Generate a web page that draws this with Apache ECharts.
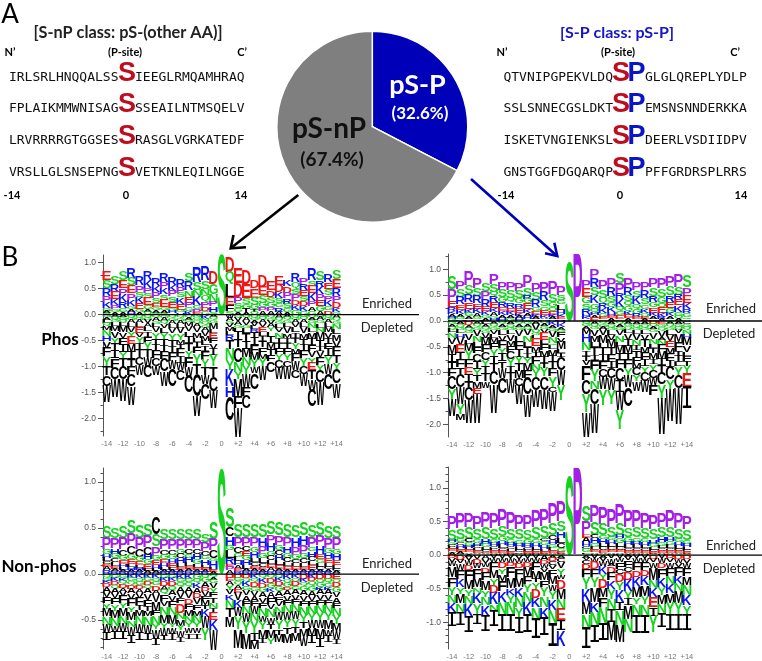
<!DOCTYPE html>
<html><head><meta charset="utf-8">
<style>html,body{margin:0;padding:0;background:#fff}#c{width:762px;height:661px}</style>
<script src="https://cdn.jsdelivr.net/npm/echarts@6/dist/echarts.min.js"></script>
</head><body><div id="c"></div>
<script>
// ---------- data ----------
const pieNames = ['pS-P', 'pS-nP'];
const pieValues = [32.6, 67.4];

const positions = [-14,-13,-12,-11,-10,-9,-8,-7,-6,-5,-4,-3,-2,-1,0,1,2,3,4,5,6,7,8,9,10,11,12,13,14];
const xTickValues = [-14,-12,-10,-8,-6,-4,-2,0,2,4,6,8,10,12,14];

const seqNpLeft  = ['IRLSRLHNQQALSS','FPLAIKMMWNISAG','LRVRRRRGTGGSES','VRSLLGLSNSEPNG'];
const seqNpRight = ['IEEGLRMQAMHRAQ','SSEAILNTMSQELV','RASGLVGRKATEDF','VETKNLEQILNGGE'];
const seqPLeft   = ['QTVNIPGPEKVLDQ','SSLSNNECGSLDKT','ISKETVNGIENKSL','GNSTGGFDGQARQP'];
const seqPRight  = ['GLGLQREPLYDLP','EMSNSNNDERKKA','DEERLVSDIIDPV','PFFGRDRSPLRRS'];

// Letter stacks, read top to bottom; number = height in hundredths of a logo unit
const npPhosUp = ['E18S16R15P11K12G06A04Q03','S15R15E14K12P08G05A05','S17E15P13K14R12G07A05','R19S14E15P12K13G06A05H05','R16P13S10K11E12G06A05','R16K15P10S10E14G08A05Q05','R14K12P12S10E08G06A04Q04','R16P12K11S11E14G06A05Q04','R15K11P11S10E13G05H04A03','R15P11S09K12E11G05H03A02','S14R16N13E12P09G07K07','R30S14N12K18G08P06E04','R26S16N13Q12P10D08G07','D24G20N14P09H10S06','S117','D30Q24L26E14F12S07','E30D26P13S10G07A05','D28E26S12G10T06A05','D14E18S14G09T05Q05','D22E17S14G09P07A07','E17D13S12G09P07A07','E16D14K11S10G08R08A06','K13D13P11R10S09G07A05','R16Q11S11P11D10K10G09','P13R12E11S10D09K09G08','R21S10E15K15P10A08G08','S17R12K14P12E12G09A07','R14E13S12P10K11G08D08','S17E17R15P11D13K07G05'];
const npPhosDown = ['G05A05L06Q06M07N12H10V13F16Y18T18C21W31','A05Q05G05L07M10V12Y12T14I14F18C22W34','A05G05Q06L06M12V10F13I14Y13T16C24W42','Q05G05A06L07V10Y10E14M14I14T15F16C22W35','Q05G05A06L07E12V08Y12I12T14C16W19','Q05G05V06A08L08I10F12Y14T14W16C22','Q06A06G06L06V10Y12T12I12F14C14W18','G06A06Q06V07L10Y12T12I12F14C24W28','Q06G06A06L07V10Y13T12I13F16W16C32','Q06G06A06L07V11Y12M08T10F14I12W14C20','Q05A05G05M07V10L10I13T14Y12F20W16C33','N05G06Q06A07V10M10L08I10F12Y20T20C42W38','K08N05Q06G06A06V10M09L09I10F18Y14T14W18C30','A05Q05G06M12L07E10F10V10I12Y22T20C28W33','','W06A06G05V07M08L07R10T16N22Y19K32H20C45','Q05V08A07G05L08I16T14C28N19Y14M34F22W56','Q05A07V08G06L10T16I14M16N14Y18W26F16C24','Q05G05A05V06L07R05T12I14F14M14Y14W12C30','G05Q05A06V07E10L08I10T12F12M10Y14W26','Q06G06V06A06Y08L10I12M12T12F12C20','A06Q06G06L08V08N10I10T10F12Y12C14W22','A05Q05G06L08V12M08I10T10F12Y12C12W24','Q05G05A06V08L10I10T10Y12M10F14W16C16','G05Q05A06L08V12M10T12I12F14Y14C16W24','Q05A05G06N10L08M12I12F12V12Y10E14T18W20C32','Q05A06G06L08N08M15T12I10V12F14Y12C22W44','Q05G05A06L08M10V10T10F12I14Y14W20C30','A06Q06G06N10L10M12V12F16T14Y12C28W28'];

const pPhosUp = ['S26P22E12R07K06A06H04G04','P16S16R14E10K08A06G05H03','P27S18R15E13K08G07A06H03','P19S16R14E10K09A07G05H03','S16P14R15E09K07G06A06','P21S15Q08R12E11K08A07G06H04','P16S14G10R09E08K07A06H06','P14S14Q09R10E08K07A06G05','P15S14G10R08E10K06A05H05','P22S16R06G09E11K08A06H05Q04','P18S14R14G08E07K05A04H03','P20R16S12G08E09K05A03H03','P24S16G10Q08E06K05A04H03','P18S10G08L10H08K06E05R03','S115','P130','P16E17G12S10R10H06K05A03','P18R17S15K16G10Q08H05A05E06','P17S16Q11R09K09G08E05A03','P18R16S13G10K09H07E05A05','S21P20R12K14Q09G08E08A03','P19R14S12Q09G10K07E07A05','P16S13K14Q10G09R06E05A03','P16R15S13G08K08Q07E05A04','P18S16R13G10E10K07A05Q04','P20S16G12Q09E11K07R04A04','P21S18R13E11G10K07A05Q04','P24S14R09E12K12G08Q05A05','S22P16E14K12R08G08Q04A03'];
const pPhosDown = ['G05A06Q05L06N10V13M18I16T12F16C24Y20W32','A06Q06G05L07H08V14E16I14F14T12C26W32Y20M12','D08A06Q05G05V12L08M14Y16F16E14I14T10C26W44','A06Q05G06V12N12L10F12C16I14Y12T12M12E12W56','L06A06Q05G06V10M14F14C14Y12I16T14W13','A06Q05G06V08L08M10F12Y14I14T14C26W54','Q06A06G06L10V10F14Y12I14T12W20C30','A06Q06G06L08V12M10F12C14Y14I12T14W26','Q05A06G06V12L12F14I14Y14T14M14C14W36','G05A06Q05V12N12L10T12I10Y10M14F14C32W43','A05V12Q05G05L08E14M10I10F14N12Y14C24W33','Q05A05G05V08E14L08F12M12I12T10Y16C26W38','K08A06G05V12N12Q04L08M12I12T14F14Y20C11W36','H04K07A06G05F10V08M14L08I07C26W29Y29','','','Q05G05A05M10H16N16I10T10V09F28C28Y34W48','A05Q06G05V13M12L10T14I10F20Y22N14C30W56','Q06G05A05V12M14L10T14I12F16C14W24Y30','A06Q06G05L10V10M14T14F14I12C20W22Y28','Q06A06G06V10N12L08M14T12F18C24I22W34Y36','A05G05Q06L08V12I12M14T12F18Y14W22C36','A06Q06G05L08V12N10I10T12F12M10C14Y12W18','A06Q06G06L08V10T14M12F14I12Y10C18W22','D06Q05A05G06V12N10L08T10M12I10Y12C14W14F20','E06G06Q06V12A06N10F14M14I12T14C22Y28W68','A06Q05G06L10V12E12M12F14I12C24Y18W62','A05G06Q05V08M16F18T10I12L08Y18C24W70','C05G06Q06N08H08M14V12L08F10T10Y14E26I42'];

const npNonUp = ['S13P12G05H04L04C03E03A04R04','S11P11H06G05C04L04E03A03R03','S13P12C07G05E04H03L03A03R02','S14P13C09G06E05L03H03A03R02','S14P12C08G05E04L03H03A02R02','S13P12C08H05G05E05L03A02R01','C18S13P10G05E05H04L03A02R01','S11P11C06G05E04H04L03A03R02','S11P11C06G05H04E05L03A02R02','S11P11G05C05H05L04E03A03R02','S11P10C06G04H05L04E03A03R03','S11P10C06H06G05L04E03A02R02','S09P10C05G04H06L03E03A02R02','S19P12C09G03H08L02E02A02','S115','S22C10H10G05L08R07E03P04A04','S14P10C07G04L05H04A04E03R03','S14P10C05E05G05H05L04A03R03','S14P10G06H07L04C04E03A03R03','S14H10P08G05L05C04E03A03R02','S14P09H09G05C05L04E04A04R03','S14P10G06C05H06L05E04A03R03','S14P10H07G05C05L04E04A03R02','S13H10P09G05C04L04E04A02R02','S14H10P10G05C05L04E03A03R02','S13P11G04H06C05L04E05A03R02','S14P11H09E06G04L04C04A02R02','S13P11G05H06E05L04C03A03R02','S13P12G05H07E05L04C03A02R01'];
const npNonDown = ['Q04G03K03D04A05V06F07Y06M08N09W08I09','G04K04D04Q04A05V05F07Y07M08N08W07I08','G04K03Q04D04A04V05F08Y05M09N08W08I09','K04G04Q04D04A05V06F08Y06M09N07W10I08','K04Q04G04D04A04V06F08T05M07N08W10I08','K04G04D04Q04A05V07F07T05M06N10W09I07','K04Q04G04D06A04V08M10F05N10Y05W10I07','G04K04D05A04Q05F07V06N09M09Y06W08I05','G04K04D05Q05A05V06F07N08M10Y04W07I07','K05G04Q05A05V07F06D10N07M07Y05W07I06','K05G04Q05A05V07D06F06M07N07Y06W06I06','G05Q05K05A05D06V07F06M06N08Y05W06I06','Q04G05A05D04V06F05M05T04K09W12Y13','Q03A03G04V05Y05F05T06N06I05E08K11W22','','D04E04A04Y05V05K06N09T10M11','D04G04Q04A04E04V08K09W09Y14M20','D04Q04K05G04V06A06F06N08W09Y12M17','K04Q04D06G04V06A05F06W08N08Y13I09M08','Q04K06D05G05A05V06F06N08W07Y08M10I05','Q04D06G05K04A07F07V05N09W07T06M09Y07','Q04K04D05G05A06F06V05N07W08Y10T06M08','K05Q04G05D03A06V06F05N08W08Y08T07M10','K04Q04D05G04A05V06F05N08W08Y08T07M09','D05K04Q04G05A05V06F06N09Y08T07M09W10','K04D04Q05G05A06V05F06N08Y08W08M08I08','D05Q04G05K03A05V06F06N08Y09W08M10I10','D05Q05G04K03A05V06F06N08Y08M10W07I07','E05Q04D05G05V06A06F06N08Y09M08W08I06'];

const pNonUp = ['P20S16H03G04C03L03E03Q03A03','P23S16G05C04H04L03E03A03Q02','P22S17C05G05H04L03E03A02Q02','P19S16G05H04C04L04E03A02Q01','P23S18H07G05L04C03E02A02Q01','P23S16G06H05C04L03E03A02Q01','P24S15G07H06L05C04E03A02Q01','P24S15G06H05C04L04E03A01Q01','P22S15G06H05L04C04E02A01Q01','P22S14G07H05C04L03E03A01Q01','P24S17G06H06L04C03E03A01Q01','P25S18C04G06H06L04E03A01Q01','P30S18C07H06G05L05E03A02Q01','P30S15H09L08C08G05E03A01Q01','S117','P129','S23P20E05A07H06C04G05L02Q02','P24S19C05H07G06L05E03A02Q02','P24S17G05H07L05C05E04A02Q01','P26S15G05H05L05C05E03A02Q02','P28S17H05G07L06C05E03A02Q02','P24S14G07H05L05C04E03A02Q01','P24S15G06H05L05C04E03A02Q01','P23S15G06H05L04C04E03A02Q01','P22S15H06G05L04C03E03A01Q01','P22S15H07G05L04C04E03A02Q01','P24S15H05G06L05C04E03A02Q01','P23S16G05H05L05C03E03A02Q01','P20S16G05H05L04C03E03A01Q01'];
const pNonDown = ['D05V05W07M16F14Y12N12K14I21','D07V05W10F14K12Y10M14N12I20','A03V05W07D07F15M14Y10N12K18I24','V06D07W07F14M14N08K16Y15I15','A06V06W06D08F12M14Y10N12K16I23','V05W05F12M12Y10D12K17N10I23','V05W05D10Y08M10F16K16N18I25','V05W07D05F16M16K10Y12N17I25','V06W06D08F14M14K14N16Y14I24','V05W06D07M13F12Y12N15K18I26','V05W06F12M12T05Y10D14K14N18I28','A07D06W06V06M12F10Y14N16K16I26','A04D05C06V06F10M12W10Y12K16N20I34','A04C06V10Y10W06D14M15N15E17I15K23','','','A04V04C06D07F12Y17K20M18N20I30','V05W05D11F12Y15M22K14N20I25','A04V05W07K12Y08D13M14F14N25I25','V05W08A03D10F12K12Y15N15I20M27','V05W06F10C07D12Y12K18I12N22M25','A03V05F10C07D12K17Y11I10M20N20','V05W06F11D10K15M16Y10N16I27','V05W06F11D09K14M16Y12N16I27','D06V05W08M18N12K14E15I12Y24','V05W07D08F14K13Y12M14N13I21','D05V06W08F12N12K14M14Y16I24','D06W06V06F14K11N11M17Y16I24','D06V06W08F12M12N15K16Y14I22'];

// ---------- helpers ----------
const GREEN='#14d21e', PURPLE='#a31fe6', RED='#f01414', BLUE='#0a14f0', BLACK='#000000';
const letterColor = {K:BLUE,R:BLUE,H:BLUE,D:RED,E:RED,P:PURPLE,S:GREEN,G:GREEN,N:GREEN,Q:GREEN,Y:GREEN};
const fontOf = l => l==='I' ? '100px "DejaVu Sans Mono"' : 'bold 100px "Liberation Sans"';
const mctx = document.createElement('canvas').getContext('2d');
const glyphCache = {};
function glyph(l){
  if(glyphCache[l]) return glyphCache[l];
  mctx.font = fontOf(l); mctx.textBaseline='middle'; mctx.textAlign='left';
  const m = mctx.measureText(l);
  return glyphCache[l] = {l:m.actualBoundingBoxLeft,r:m.actualBoundingBoxRight,a:m.actualBoundingBoxAscent,d:m.actualBoundingBoxDescent};
}
function parse(s){ return [...s.matchAll(/([A-Z])(\d+)/g)].map(m=>[m[1],+m[2]/100]); }
function buildRows(up,down){
  const rows=[];
  positions.forEach((p,i)=>{
    const u=parse(up[i]); let top=u.reduce((a,b)=>a+b[1],0);
    u.forEach(([l,h])=>{ rows.push([p,top-h,top,l]); top-=h; });
    let y=0;
    parse(down[i]).forEach(([l,h])=>{ rows.push([p,y-h,y,l]); y-=h; });
  });
  return rows;
}
function renderLetter(params,api){
  const p=api.value(0), l=api.value(3);
  const s=api.size([1,0])[0]*1.04;
  const c0=api.coord([p,api.value(2)]), c1=api.coord([p,api.value(1)]);
  const g=glyph(l), sx=s/(g.l+g.r), H=Math.max(c1[1]-c0[1],0.3), sy=H/(g.a+g.d);
  return {type:'text',x:c0[0]-s/2+g.l*sx,y:c0[1]+g.a*sy,scaleX:sx,scaleY:sy,silent:true,
    style:{text:l,x:0,y:0,font:fontOf(l),fill:letterColor[l]||BLACK,align:'left',verticalAlign:'middle'}};
}

// panel geometry
const panels=[
 {up:npPhosUp,down:npPhosDown,left:103,right:419,x0:106.7,step:8.21,top:255,bottom:436,zero:314.7,unit:52,major:[1,.5,0,-.5,-1,-1.5,-2],minor:.25},
 {up:pPhosUp,down:pPhosDown,left:448,right:762,x0:452,step:8.39,top:254,bottom:437,zero:321,unit:51.7,major:[1,.5,0,-.5,-1,-1.5,-2],minor:.25},
 {up:npNonUp,down:npNonDown,left:103,right:419,x0:106.7,step:8.21,top:468,bottom:651,zero:575.3,unit:93,major:[1,.5,0,-.5],minor:.1},
 {up:pNonUp,down:pNonDown,left:448,right:762,x0:452,step:8.39,top:467,bottom:651,zero:556,unit:68,major:[1,.5,0,-.5,-1],minor:.1}
];
const grid=[],xAxis=[],yAxis=[],series=[];
panels.forEach((P,i)=>{
  const xmin=-14+(P.left-P.x0)/P.step, xmax=-14+(P.right-P.x0)/P.step;
  const ymax=(P.zero-P.top)/P.unit, ymin=(P.zero-P.bottom)/P.unit;
  grid.push({left:P.left,top:P.top,width:P.right-P.left,height:P.bottom-P.top});
  xAxis.push({type:'value',gridIndex:i,min:xmin,max:xmax,splitLine:{show:false},axisLine:{show:false,onZero:false},
    axisTick:{show:false},
    axisLabel:{customValues:xTickValues,margin:4,color:'#777',fontSize:7.5,fontFamily:'Liberation Sans',
      hideOverlap:false,showMinLabel:true,showMaxLabel:true,formatter:v=>v>0?'+'+v:String(v)}});
  const minors=[]; for(let k=Math.ceil(ymin/P.minor);k<=Math.floor(ymax/P.minor);k++) minors.push(+(k*P.minor).toFixed(3));
  yAxis.push({type:'value',gridIndex:i,min:ymin,max:ymax,splitLine:{show:false},
    axisLine:{show:true,onZero:false,lineStyle:{color:'#555',width:1}},
    axisTick:{show:true,length:5,customValues:P.major,lineStyle:{color:'#555'}},
    axisLabel:{customValues:P.major,margin:7,color:'#555',fontSize:8.5,fontFamily:'Liberation Sans',
      showMinLabel:true,showMaxLabel:true,formatter:v=>v.toFixed(1)}});
  yAxis.push({type:'value',gridIndex:i,position:'left',min:ymin,max:ymax,splitLine:{show:false},
    axisLine:{show:false,onZero:false},axisLabel:{show:false},
    axisTick:{show:true,length:2.5,customValues:minors,lineStyle:{color:'#555'}}});
  series.push({type:'custom',xAxisIndex:i,yAxisIndex:i*2,coordinateSystem:'cartesian2d',silent:true,clip:false,
    encode:{x:0,y:[1,2]},dimensions:['pos','y0','y1',{name:'letter',type:'ordinal'}],
    renderItem:renderLetter,data:buildRows(P.up,P.down),z:2,animation:false});
  series.push({type:'line',xAxisIndex:i,yAxisIndex:i*2,data:[[xmin,0],[xmax,0]],symbol:'none',silent:true,
    lineStyle:{color:'#000',width:1.3},z:5,animation:false});
});
series.push({type:'pie',center:[372.3,126.7],radius:[0,95.5],startAngle:90,clockwise:true,silent:true,animation:false,
  label:{show:false},labelLine:{show:false},
  itemStyle:{borderColor:'#fff',borderWidth:1.5},
  data:pieNames.map((n,i)=>({name:n,value:pieValues[i],itemStyle:{color:['#0000b9','#7f7f7f'][i]}}))});

// text + arrows
const T=(text,x,y,font,fill='#000',align='center')=>({type:'text',x,y,silent:true,z:20,style:{text,font,fill,align,verticalAlign:'middle'}});
const g=[];
const lb=s=>`bold ${s}px Lato`, lr=s=>`${s}px Lato`;
g.push(T('A',10,15,lr(26)),T('B',10,258,lr(26)));
g.push(T('[S-nP class: pS-(other AA)]',128,33,lb(16.3),'#222'));
g.push(T('[S-P class: pS-P]',617,33,lb(16),'#1414c8'));
[[10,"N\u2019"],[125,'(P-site)'],[242,"C\u2019"],[502,"N\u2019"],[618,'(P-site)'],[735,"C\u2019"]].forEach(([x,t])=>g.push(T(t,x,52,lb(11))));
[[12,'-14'],[126,'0'],[241,'14'],[506,'-14'],[620,'0'],[741,'14']].forEach(([x,t])=>g.push(T(t,x,195,lb(11))));
const rowY=[77.5,109,141,172.5];
const mono='13px "DejaVu Sans Mono"';
rowY.forEach((y,i)=>{
  g.push(T(seqNpLeft[i],118.5,y,mono,'#111','right'),T(seqNpRight[i],135,y,mono,'#111','left'));
  g.push(T('S',127,y-4,'bold 27px "Liberation Sans"','#c00d1e'));
  g.push(T(seqPLeft[i],613,y,mono,'#111','right'),T(seqPRight[i],645,y,mono,'#111','left'));
  g.push(T('S',621,y-4,'bold 27px "Liberation Sans"','#c00d1e'),T('P',636.5,y-4,'bold 27px "Liberation Sans"','#0a14c8'));
});
g.push(T('pS-P',417.5,85,lb(27),'#fff'),T('(32.6%)',420,114,lb(17),'#fff'));
g.push(T('pS-nP',329,129,lb(28),'#111'),T('(67.4%)',332,160,lb(19),'#111'));
g.push(T('Phos',60,340,lb(17)),T('Non-phos',39,567,lb(17)));
[[387,304,'Enriched'],[387,328,'Depleted'],[387,564,'Enriched'],[387,588,'Depleted'],[731,309,'Enriched'],[729,334,'Depleted'],[731,545.5,'Enriched'],[729,569,'Depleted']]
  .forEach(([x,y,t])=>g.push(T(t,x,y,lr(13),'#222')));
const arrow=(pts,color)=>({type:'polyline',silent:true,z:20,shape:{points:pts},style:{stroke:color,lineWidth:2.6,fill:null,lineCap:'butt',lineJoin:'miter'}});
g.push(arrow([[298.3,195],[231,248]],'#000'),arrow([[233.5,235],[230.7,248.3],[246,247.3]],'#000'));
g.push(arrow([[471,179],[556.5,255.5]],'#0000b9'),arrow([[545,253.3],[557.3,256],[554.3,242.7]],'#0000b9'));

const chart=echarts.init(document.getElementById('c'),null,{renderer:'canvas',width:762,height:661});
chart.setOption({animation:false,backgroundColor:'#fff',tooltip:{show:false},grid,xAxis,yAxis,series,graphic:{elements:g}});
</script></body></html>
